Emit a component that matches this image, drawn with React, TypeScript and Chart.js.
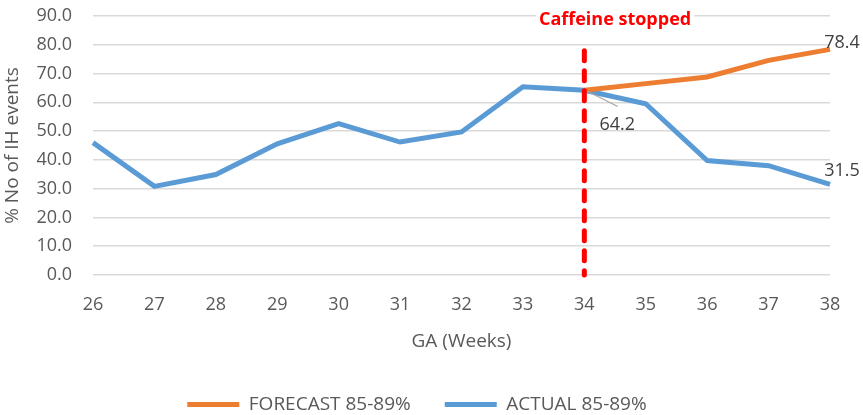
import { useEffect, useRef } from "react";
import { Chart, registerables } from "chart.js";

Chart.register(...registerables);

const weeks = ["26", "27", "28", "29", "30", "31", "32", "33", "34", "35", "36", "37", "38"];
const actual = [46.0, 30.8, 34.9, 45.6, 52.6, 46.2, 49.7, 65.4, 64.2, 59.5, 39.8, 38.0, 31.5];
const forecast = [null, null, null, null, null, null, null, null, 64.2, 66.5, 68.8, 74.6, 78.4];
const yMax = 90;
const yStep = 10;
const yTitle = "% No of IH events";
const caffeineWeek = "34";
const caffeineTop = 79;
const caffeineText = "Caffeine stopped";

const grey = "#595959";
const orange = "#ED7D31";
const blue = "#5B9BD5";
const font = "'Open Sans', sans-serif";

// which points get a value label: dataset, index, label offset, leader line
const pointLabels = [
  { ds: 0, i: 12, dx: 12, dy: -7, leader: false },
  { ds: 1, i: 12, dx: 12, dy: -13, leader: false },
  { ds: 1, i: 8, dx: 33, dy: 35, leader: true },
];

const annotations = {
  id: "annotations",
  afterDatasetsDraw(chart: Chart) {
    const { ctx, scales, chartArea } = chart;
    const x = scales.x.getPixelForValue(weeks.indexOf(caffeineWeek));
    ctx.save();

    // y axis title, centred on the plot area
    ctx.save();
    ctx.translate(13, (chartArea.top + chartArea.bottom) / 2);
    ctx.rotate(-Math.PI / 2);
    ctx.font = `19px ${font}`;
    ctx.fillStyle = grey;
    ctx.textAlign = "center";
    ctx.textBaseline = "middle";
    ctx.fillText(yTitle, 0, 0);
    ctx.restore();

    ctx.strokeStyle = "#FF0000";
    ctx.lineWidth = 5;
    ctx.lineCap = "round";
    ctx.setLineDash([10, 10]);
    ctx.beginPath();
    ctx.moveTo(x, scales.y.getPixelForValue(caffeineTop) + 3);
    ctx.lineTo(x, scales.y.getPixelForValue(0));
    ctx.stroke();
    ctx.setLineDash([]);

    ctx.font = `18px ${font}`;
    ctx.textAlign = "center";
    ctx.textBaseline = "middle";
    pointLabels.forEach((p) => {
      const el = chart.getDatasetMeta(p.ds).data[p.i];
      const v = chart.data.datasets[p.ds].data[p.i] as number;
      if (p.leader) {
        ctx.strokeStyle = "#A6A6A6";
        ctx.lineWidth = 1.2;
        ctx.beginPath();
        ctx.moveTo(el.x + 3, el.y + 1);
        ctx.lineTo(el.x + p.dx, el.y + p.dy - 19);
        ctx.stroke();
      }
      ctx.fillStyle = "#404040";
      ctx.fillText(v.toFixed(1), el.x + p.dx, el.y + p.dy);
    });

    const tx = (x + scales.x.getPixelForValue(weeks.indexOf(caffeineWeek) + 1)) / 2;
    ctx.font = `bold 18px ${font}`;
    const w = ctx.measureText(caffeineText).width;
    ctx.fillStyle = "#FFFFFF";
    ctx.fillRect(tx - w / 2 - 3, 6, w + 6, 26);
    ctx.fillStyle = "#FF0000";
    ctx.fillText(caffeineText, tx, 20);
    ctx.restore();
  },
};

export default function App() {
  const ref = useRef<HTMLCanvasElement>(null);
  useEffect(() => {
    document.body.style.margin = "0";
    const chart = new Chart(ref.current!, {
      type: "line",
      data: {
        labels: weeks,
        datasets: [
          { label: "FORECAST 85-89%", data: forecast, borderColor: orange, backgroundColor: orange, borderWidth: 5, pointRadius: 0, tension: 0 },
          { label: "ACTUAL 85-89%", data: actual, borderColor: blue, backgroundColor: blue, borderWidth: 5, pointRadius: 0, tension: 0 },
        ],
      },
      options: {
        animation: false,
        responsive: false,
        devicePixelRatio: 1,
        layout: { padding: { top: 16, right: 33, left: 4, bottom: -9 } },
        plugins: {
          tooltip: { enabled: false },
          legend: {
            position: "bottom",
            labels: {
              color: grey,
              font: { family: font, size: 19 },
              boxWidth: 52,
              boxHeight: 5,
              padding: 34,
              generateLabels: (c: Chart) =>
                c.data.datasets.map((d: any, i: number) => ({
                  text: d.label,
                  fillStyle: d.borderColor,
                  strokeStyle: d.borderColor,
                  lineWidth: 0,
                  hidden: false,
                  datasetIndex: i,
                  fontColor: grey,
                })),
            },
          },
        },
        scales: {
          x: {
            offset: false,
            grid: { display: false },
            border: { display: false },
            ticks: { color: grey, font: { family: font, size: 18 }, padding: 11, maxRotation: 0, autoSkip: false },
            title: { display: true, text: "GA (Weeks)", color: grey, font: { family: font, size: 19 }, padding: { top: 6, bottom: 8 } },
            afterFit: (s: any) => {
              s.height = 86;
            },
          },
          y: {
            min: 0,
            max: yMax,
            grid: { color: "#D9D9D9", lineWidth: 1.5, drawTicks: false },
            border: { display: false },
            ticks: { stepSize: yStep, color: grey, font: { family: font, size: 18 }, padding: 21, callback: (v: any) => Number(v).toFixed(1) },
            afterFit: (s: any) => {
              s.width = 89;
              s.paddingTop = 0;
              s.paddingBottom = 0;
            },
          },
        },
      },
      plugins: [annotations],
    });
    return () => chart.destroy();
  }, []);

  return (
    <div style={{ width: 863, height: 415, background: "#fff" }}>
      <canvas ref={ref} width={863} height={415} />
    </div>
  );
}
